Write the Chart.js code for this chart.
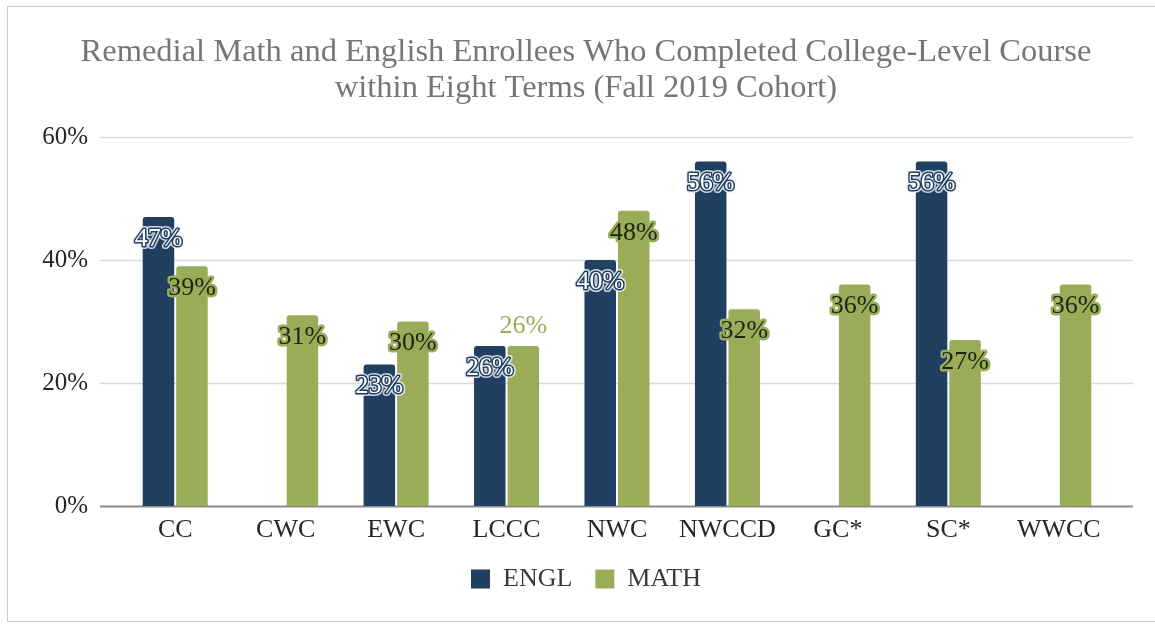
<!DOCTYPE html>
<html lang="en">
  <head>
    <meta charset="utf-8" />
    <title>Remedial Math and English Enrollees</title>
    <script src="https://cdn.jsdelivr.net/npm/chart.js/dist/chart.umd.min.js"></script>
    <style>
      * {
        margin: 0;
        padding: 0;
      }
      body {
        background: #fff;
        overflow: hidden;
      }
      .frame {
        position: absolute;
        left: 7px;
        top: 6px;
        width: 1160px;
        height: 614px;
        border: 1px solid #c8c8c8;
        border-right: none;
        pointer-events: none;
      }
      #myChart {
        position: absolute;
        left: 0;
        top: 0;
      }
    </style>
  </head>
  <body>
    <div class="frame"></div>
    <canvas id="myChart" width="1155" height="624"></canvas>

    <script>
      const colleges = ["CC", "CWC", "EWC", "LCCC", "NWC", "NWCCD", "GC*", "SC*", "WWCC"];
      const englPct = [47, null, 23, 26, 40, 56, null, 56, null];
      const mathPct = [39, 31, 30, 26, 48, 32, 36, 27, 36];
      const yTicks = [0, 20, 40, 60];

      const NAVY = "#213f60";
      const GREEN = "#9bac59";
      const SERIF = "'Liberation Serif', 'Times New Roman', serif";

      // light horizontal grid that runs a bit past the plot on both sides
      const gridLines = {
        id: "gridLines",
        beforeDatasetsDraw(chart) {
          const { ctx, chartArea } = chart;
          const y = chart.scales.y;
          ctx.save();
          y.ticks.forEach((t) => {
            const py = Math.round(y.getPixelForValue(t.value)) + 0.5;
            ctx.strokeStyle = t.value === 0 ? "#8a8a8a" : "#d9d9d9";
            ctx.lineWidth = t.value === 0 ? 2 : 1.5;
            ctx.beginPath();
            ctx.moveTo(chartArea.left - 20, py);
            ctx.lineTo(chartArea.right + 19, py);
            ctx.stroke();
          });
          ctx.restore();
        },
      };

      // value labels just inside the top of each bar
      const barLabels = {
        id: "barLabels",
        afterDatasetsDraw(chart) {
          const ctx = chart.ctx;
          const englBars = chart.getDatasetMeta(0).data;
          ctx.save();
          ctx.font = "26px " + SERIF;
          ctx.textAlign = "center";
          ctx.textBaseline = "middle";
          ctx.lineJoin = "round";
          chart.data.datasets.forEach((ds, d) => {
            chart.getDatasetMeta(d).data.forEach((bar, i) => {
              const v = ds.data[i];
              if (v == null) return;
              const text = v + "%";
              // math label would sit on the engl one: put it above its bar instead
              const clash = d === 1 && englPct[i] != null && Math.abs(englBars[i].y - bar.y) < 26;
              if (clash) {
                ctx.fillStyle = GREEN;
                ctx.fillText(text, bar.x, bar.y - 20);
                return;
              }
              const y = bar.y + 22;
              if (d === 0) {
                ctx.strokeStyle = "rgba(235,240,246,0.85)";
                ctx.lineWidth = 6;
                ctx.strokeText(text, bar.x, y);
                ctx.strokeStyle = NAVY;
                ctx.lineWidth = 3;
                ctx.strokeText(text, bar.x, y);
                ctx.fillStyle = "#ffffff";
                ctx.fillText(text, bar.x, y);
              } else {
                ctx.strokeStyle = GREEN;
                ctx.lineWidth = 5;
                ctx.strokeText(text, bar.x, y);
                ctx.fillStyle = "#1f2412";
                ctx.fillText(text, bar.x, y);
              }
            });
          });
          ctx.restore();
        },
      };

      const config = {
        type: "bar",
        data: {
          labels: colleges,
          datasets: [
            {
              label: "ENGL",
              data: englPct,
              backgroundColor: NAVY,
              borderWidth: 0,
              borderRadius: 3,
              borderSkipped: "bottom",
              barPercentage: 0.94,
              categoryPercentage: 0.607,
            },
            {
              label: "MATH",
              data: mathPct,
              backgroundColor: GREEN,
              borderWidth: 0,
              borderRadius: 3,
              borderSkipped: "bottom",
              barPercentage: 0.94,
              categoryPercentage: 0.607,
            },
          ],
        },
        options: {
          responsive: false,
          animation: false,
          layout: {
            padding: { left: 17, right: 0, top: 0, bottom: 22 },
          },
          scales: {
            x: {
              grid: { display: false, drawTicks: false },
              border: { display: false },
              ticks: {
                padding: 11,
                color: "#262626",
                font: { family: SERIF, size: 26, lineHeight: 1 },
              },
              afterFit: (s) => {
                s.height = 37;
              },
            },
            y: {
              min: 0,
              max: 60,
              grid: { display: false, drawTicks: false },
              border: { display: false },
              afterBuildTicks: (s) => {
                s.ticks = yTicks.map((v) => ({ value: v }));
              },
              ticks: {
                padding: 32,
                color: "#262626",
                font: { family: SERIF, size: 25 },
                callback: (v) => v + "%",
              },
              afterFit: (s) => {
                s.width = 103;
              },
            },
            yRight: {
              position: "right",
              grid: { display: false, drawTicks: false },
              border: { display: false },
              ticks: { display: false },
              afterFit: (s) => {
                s.width = 41;
              },
            },
          },
          plugins: {
            title: {
              display: true,
              text: [
                "Remedial Math and English Enrollees Who Completed College-Level Course",
                "within Eight Terms (Fall 2019 Cohort)",
              ],
              color: "#767676",
              font: { family: SERIF, size: 32.5, weight: "normal", lineHeight: "36px" },
              padding: { top: 34, bottom: 31 },
            },
            legend: {
              position: "bottom",
              labels: {
                color: "#3a3a3a",
                font: { family: SERIF, size: 26 },
                boxWidth: 19,
                boxHeight: 19,
                padding: 23,
              },
            },
            tooltip: { enabled: false },
          },
        },
        plugins: [gridLines, barLabels],
      };

      const myChart = new Chart(document.getElementById("myChart"), config);
    </script>
  </body>
</html>
